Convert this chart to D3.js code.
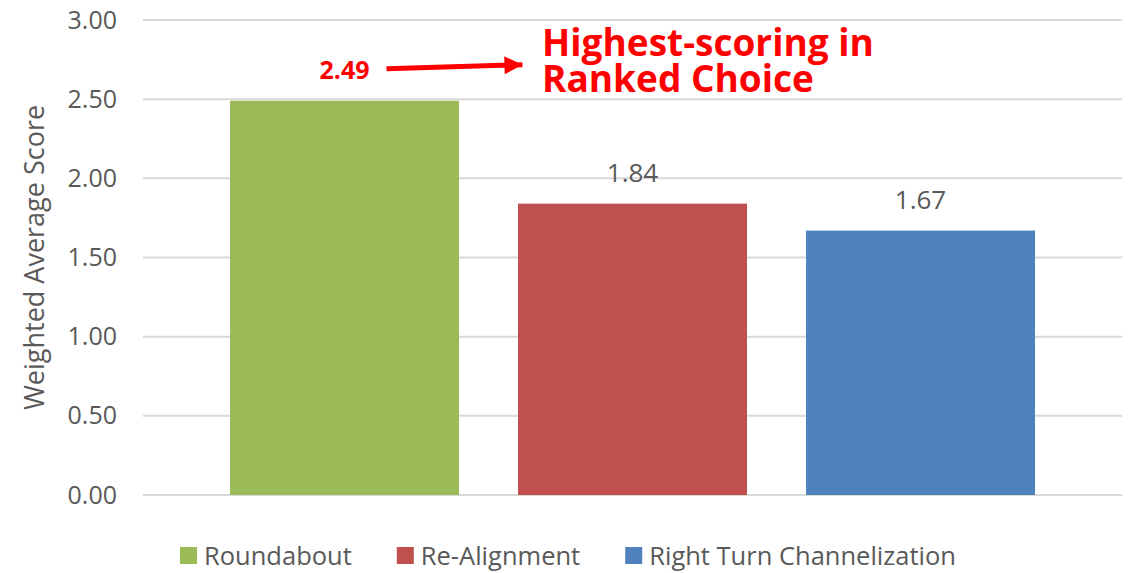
<!DOCTYPE html>
<html>
<head>
<meta charset="utf-8">
<script src="https://cdn.jsdelivr.net/npm/d3@7"></script>
<style>
  body { margin: 0; background: #fff; }
  text { font-family: "Open Sans", sans-serif; }
</style>
</head>
<body>
<svg id="chart" width="1137" height="573"></svg>
<script>
// chart data
var categories = ["Roundabout", "Re-Alignment", "Right Turn Channelization"];
var scores = [2.49, 1.84, 1.67];
var barColors = ["#9BBB59", "#C0504D", "#4F81BD"];
var yTicks = [0, 0.5, 1, 1.5, 2, 2.5, 3];
var calloutLines = ["Highest-scoring in", "Ranked Choice"];

var svg = d3.select("#chart");
var margin = {top: 20, right: 15, bottom: 78, left: 143};
var width = 1137, height = 573;

var x = d3.scaleBand()
  .domain(categories)
  .range([margin.left, width - margin.right])
  .paddingInner(0.205)
  .paddingOuter(0.302);

var y = d3.scaleLinear()
  .domain([0, 3])
  .range([height - margin.bottom, margin.top]);

// gridlines
svg.append("g")
  .selectAll("line")
  .data(yTicks)
  .join("line")
  .attr("x1", margin.left)
  .attr("x2", width - margin.right)
  .attr("y1", d => y(d))
  .attr("y2", d => y(d))
  .attr("stroke", "#D9D9D9")
  .attr("stroke-width", 2);

// y axis labels
var yAxis = svg.append("g")
  .attr("transform", `translate(${margin.left - 26},0)`)
  .call(d3.axisLeft(y).tickValues(yTicks).tickFormat(d3.format(".2f")).tickSize(0).tickPadding(0));
yAxis.select(".domain").remove();
yAxis.selectAll("text")
  .attr("fill", "#595959")
  .style("font-size", "25px")
  .style("font-family", "Open Sans, sans-serif");

// axis title
svg.append("text")
  .attr("transform", `translate(44,${(y(0) + y(3)) / 2}) rotate(-90)`)
  .attr("text-anchor", "middle")
  .attr("fill", "#595959")
  .style("font-size", "27px")
  .text("Weighted Average Score");

// bars
svg.append("g")
  .selectAll("rect")
  .data(scores)
  .join("rect")
  .attr("x", (d, i) => x(categories[i]))
  .attr("y", d => y(d))
  .attr("width", x.bandwidth())
  .attr("height", d => y(0) - y(d))
  .attr("fill", (d, i) => barColors[i]);

// value labels (first one is red in the callout)
svg.append("g")
  .selectAll("text")
  .data(scores)
  .join("text")
  .attr("x", (d, i) => x(categories[i]) + x.bandwidth() / 2)
  .attr("y", d => y(d) - 22)
  .attr("text-anchor", "middle")
  .attr("fill", (d, i) => i == 0 ? "#FF0000" : "#595959")
  .style("font-size", (d, i) => i == 0 ? "25px" : "26px")
  .style("font-weight", (d, i) => i == 0 ? "700" : "400")
  .text(d => d3.format(".2f")(d));

// arrow pointing at the callout text
var cx = x(categories[0]) + x.bandwidth() / 2;
var ay = y(scores[0]) - 32;
svg.append("defs").append("marker")
  .attr("id", "head")
  .attr("viewBox", "0 0 10 10")
  .attr("refX", 10).attr("refY", 5)
  .attr("markerWidth", 20).attr("markerHeight", 18)
  .attr("markerUnits", "userSpaceOnUse")
  .attr("orient", "auto")
  .append("path")
  .attr("d", "M0,0L10,5L0,10Z")
  .attr("fill", "#FF0000");
svg.append("line")
  .attr("x1", cx + 42).attr("y1", ay)
  .attr("x2", cx + 178).attr("y2", ay - 4)
  .attr("stroke", "#FF0000")
  .attr("stroke-width", 5)
  .attr("marker-end", "url(#head)");

svg.append("text")
  .attr("fill", "#FF0000")
  .style("font-size", "37px")
  .style("font-weight", "700")
  .selectAll("tspan")
  .data(calloutLines)
  .join("tspan")
  .attr("x", 542)
  .attr("y", (d, i) => 56 + i * 36)
  .text(d => d);

// legend
var legend = svg.append("g").attr("transform", `translate(180,${height - 8})`);
var lx = 0;
categories.forEach(function(c, i) {
  legend.append("rect")
    .attr("x", lx).attr("y", -18)
    .attr("width", 17).attr("height", 17)
    .attr("fill", barColors[i]);
  var t = legend.append("text")
    .attr("x", lx + 24).attr("y", 0)
    .attr("fill", "#595959")
    .style("font-size", "25.5px")
    .text(c);
  lx += 24 + t.node().getComputedTextLength() + 45;
});
</script>
</body>
</html>
